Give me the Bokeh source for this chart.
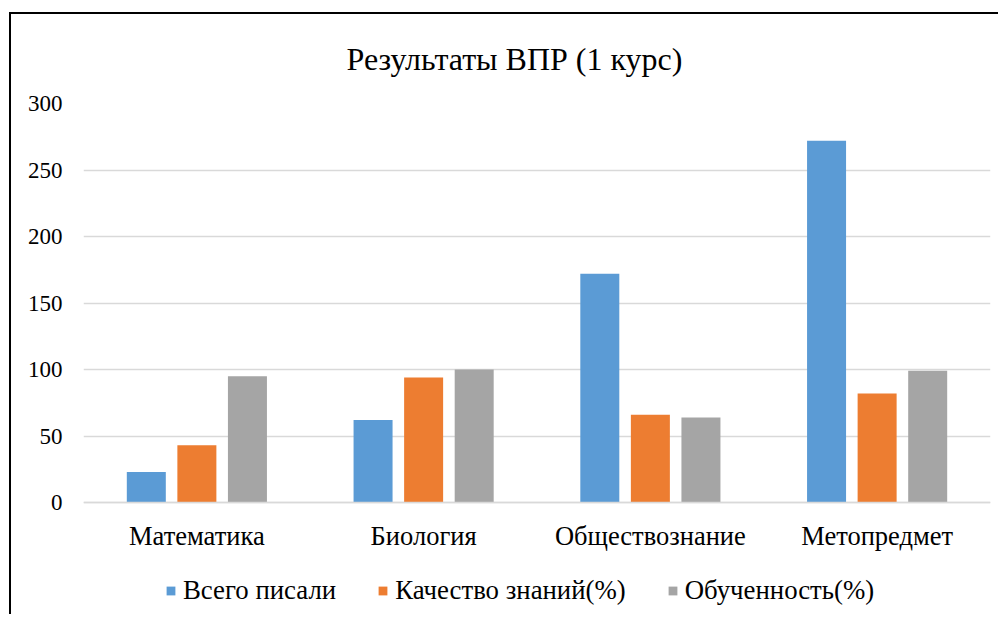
from bokeh.plotting import figure
from bokeh.models import (FactorRange, Range1d, Legend, LegendItem, FixedTicker,
                          ColumnDataSource, InlineStyleSheet)
from bokeh.transform import dodge
from bokeh.embed import file_html
from bokeh.resources import INLINE

categories = ["Математика", "Биология", "Обществознание", "Метопредмет"]
series_names = ["Всего писали", "Качество знаний(%)", "Обученность(%)"]
vsego = [23, 62, 172, 272]
kachestvo = [43, 94, 66, 82]
obuchennost = [95, 100, 64, 99]
y_ticks = [0, 50, 100, 150, 200, 250, 300]
colors = ["#5B9BD5", "#ED7D31", "#A5A5A5"]
title_text = "Результаты ВПР (1 курс)"

FONT = "Liberation Serif"

src = ColumnDataSource(dict(cat=categories, s0=vsego, s1=kachestvo, s2=obuchennost))

border_css = InlineStyleSheet(css="""
:host { position: relative; }
:host::after {
  content: "";
  position: absolute;
  left: 9px; top: 12px; right: 0; bottom: 0;
  border-left: 2px solid #000000;
  border-top: 2px solid #000000;
  pointer-events: none;
}
""")

# frame spans from the 300 gridline down to the bottom of the canvas (legend lives inside it)
p = figure(x_range=FactorRange(*categories, range_padding=0), y_range=Range1d(-84.2, 300),
           frame_width=907, frame_height=511, output_backend="svg", toolbar_location=None,
           min_border_left=83, min_border_right=8, min_border_top=103, min_border_bottom=0,
           stylesheets=[border_css])
p.outline_line_color = None
p.background_fill_color = "white"
p.border_fill_color = "white"

# title
p.title.text = title_text
p.title.text_font = FONT
p.title.text_font_size = "32px"
p.title.text_font_style = "normal"
p.title.text_color = "#000000"
p.title.align = "left"
p.title.offset = 263
p.title.standoff = 53

renderers = []
offsets = [-0.223, 0.0, 0.223]
for i, (col, c) in enumerate(zip(["s0", "s1", "s2"], colors)):
    r = p.vbar(x=dodge("cat", offsets[i], range=p.x_range), top=col, width=0.172,
               source=src, fill_color=c, line_color=None)
    renderers.append(r)

# axes
p.yaxis.ticker = FixedTicker(ticks=y_ticks)
p.yaxis.axis_line_color = None
p.yaxis.major_tick_line_color = None
p.yaxis.minor_tick_line_color = None
p.yaxis.major_label_standoff = 15
p.yaxis.major_label_text_font = FONT
p.yaxis.major_label_text_font_size = "23px"
p.yaxis.major_label_text_color = "#000000"

p.xaxis.fixed_location = 0
p.xaxis.axis_line_color = "#D9D9D9"
p.xaxis.axis_line_width = 1.5
p.xaxis.major_tick_line_color = None
p.xaxis.minor_tick_line_color = None
p.xaxis.major_label_standoff = 12
p.xaxis.major_label_text_font = FONT
p.xaxis.major_label_text_font_size = "26.5px"
p.xaxis.major_label_text_color = "#000000"

p.xgrid.grid_line_color = None
p.ygrid.grid_line_color = "#D9D9D9"
p.ygrid.grid_line_width = 1.5

# legend
items = [LegendItem(label=n, renderers=[r]) for n, r in zip(series_names, renderers)]
legend = Legend(items=items, orientation="horizontal", location=(82, 8),
                label_text_font=FONT, label_text_font_size="26.8px",
                label_text_color="#000000",
                glyph_width=11, glyph_height=11, label_standoff=7, spacing=41,
                padding=0, margin=0, border_line_color=None, background_fill_alpha=0)
p.add_layout(legend, "center")

open("out.html", "w").write(file_html(p, INLINE))
